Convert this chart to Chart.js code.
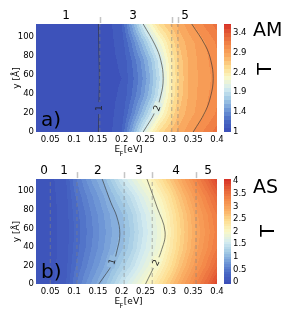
<!DOCTYPE html>
<html>
<head>
<meta charset="utf-8">
<title>T(E_F, y) AM / AS</title>
<script src="https://cdn.jsdelivr.net/npm/chart.js@4.4.1/dist/chart.umd.min.js"></script>
<style>
  html, body { margin: 0; padding: 0; background: #fff; }
  #wrap { position: relative; width: 291px; height: 316px; overflow: hidden; }
  canvas { position: absolute; left: 0; }
  #chartA { top: 0; }
  #chartB { top: 158px; }
</style>
</head>
<body>
<div id="wrap">
  <canvas id="chartA" width="291" height="158"></canvas>
  <canvas id="chartB" width="291" height="158"></canvas>
</div>
<script>
// ---- values ----
const xRange = [0.02, 0.4];          // E_F [eV]
const yRange = [0, 113];             // y [Å]
const xTicks = [0.05, 0.1, 0.15, 0.2, 0.25, 0.3, 0.35, 0.4];
const yTicks = [0, 20, 40, 60, 80, 100];
const yGrid = [0, 19, 38, 56, 75, 94, 113];   // rows of the T maps

// a) AM
const eGridA = [0.02, 0.1, 0.15, 0.18, 0.2, 0.22, 0.24, 0.26, 0.28, 0.3, 0.32, 0.34, 0.36, 0.38, 0.4];
const tGridA = [
  [0.97, 0.97, 0.98, 1.0, 1.1, 1.5, 1.9, 2.25, 2.55, 2.7, 2.85, 2.95, 3.05, 3.15, 3.25],
  [0.97, 0.97, 0.98, 0.99, 1.04, 1.3, 1.6, 1.9, 2.2, 2.48, 2.71, 2.85, 2.93, 3.02, 3.12],
  [0.97, 0.97, 0.98, 0.99, 1.01, 1.19, 1.41, 1.67, 1.97, 2.34, 2.63, 2.81, 2.91, 2.99, 3.07],
  [0.97, 0.97, 0.98, 0.99, 1.0, 1.15, 1.35, 1.6, 1.9, 2.3, 2.6, 2.8, 2.9, 2.97, 3.05],
  [0.97, 0.97, 0.98, 0.99, 1.01, 1.19, 1.41, 1.67, 1.97, 2.34, 2.63, 2.81, 2.91, 2.99, 3.07],
  [0.97, 0.97, 0.98, 0.99, 1.04, 1.3, 1.6, 1.9, 2.2, 2.48, 2.71, 2.85, 2.93, 3.02, 3.12],
  [0.97, 0.97, 0.98, 1.0, 1.1, 1.5, 1.9, 2.25, 2.55, 2.7, 2.85, 2.95, 3.05, 3.15, 3.25]
];
const cbRangeA = [0.894, 3.628];
const cbTicksA = [0.9, 1.4, 1.9, 2.4, 2.9, 3.4];
const cbLabelsA = ['1', '1.4', '1.9', '2.4', '2.9', '3.4'];
const dashA = [0.154, 0.305, 0.318];
const marksA = [0.154, 0.305, 0.318];
const topPosA = [0.083, 0.224, 0.333];
const topLabelsA = ['1', '3', '5'];
const c1aY = [0, 28, 56, 84, 113],          c1aE = [0.151, 0.152, 0.153, 0.152, 0.151];
const c2aY = [0, 21, 38, 56, 75, 91, 113],  c2aE = [0.245, 0.27, 0.282, 0.287, 0.282, 0.27, 0.245];
const c3aY = [0, 21, 38, 56, 75, 91, 113],  c3aE = [0.35, 0.375, 0.387, 0.392, 0.387, 0.375, 0.347];

// b) AS
const eGridB = [0.02, 0.05, 0.08, 0.1, 0.12, 0.14, 0.16, 0.18, 0.2, 0.22, 0.24, 0.26, 0.28, 0.3, 0.32, 0.34, 0.36, 0.38, 0.4];
const tGridB = [
  [0.05, 0.08, 0.15, 0.45, 0.65, 0.85, 1.02, 1.25, 1.5, 1.7, 1.9, 2.1, 2.35, 2.6, 2.85, 3.1, 3.35, 3.6, 3.9],
  [0.05, 0.08, 0.13, 0.37, 0.54, 0.71, 0.87, 1.06, 1.24, 1.43, 1.65, 1.85, 2.08, 2.35, 2.63, 2.88, 3.13, 3.35, 3.6],
  [0.05, 0.08, 0.12, 0.32, 0.47, 0.63, 0.78, 0.94, 1.08, 1.27, 1.5, 1.7, 1.9, 2.2, 2.49, 2.74, 3.0, 3.2, 3.41],
  [0.05, 0.08, 0.12, 0.3, 0.45, 0.6, 0.75, 0.9, 1.03, 1.22, 1.45, 1.65, 1.85, 2.15, 2.45, 2.7, 2.95, 3.15, 3.35],
  [0.05, 0.08, 0.12, 0.32, 0.47, 0.63, 0.78, 0.94, 1.08, 1.27, 1.5, 1.7, 1.9, 2.2, 2.49, 2.74, 3.0, 3.2, 3.41],
  [0.05, 0.08, 0.13, 0.37, 0.54, 0.71, 0.87, 1.06, 1.24, 1.43, 1.65, 1.85, 2.08, 2.35, 2.63, 2.88, 3.13, 3.35, 3.6],
  [0.05, 0.08, 0.15, 0.45, 0.65, 0.85, 1.02, 1.25, 1.5, 1.7, 1.9, 2.1, 2.35, 2.6, 2.85, 3.1, 3.35, 3.6, 3.9]
];
const cbRangeB = [-0.077, 4.077];
const cbTicksB = [0, 0.5, 1, 1.5, 2, 2.5, 3, 3.5, 4];
const cbLabelsB = ['0', '0.5', '1', '1.5', '2', '2.5', '3', '3.5', '4'];
const dashB = [0.05, 0.106, 0.205, 0.264, 0.356];
const marksB = [0.106, 0.205, 0.264, 0.356];
const topPosB = [0.037, 0.079, 0.15, 0.236, 0.314, 0.381];
const topLabelsB = ['0', '1', '2', '3', '4', '5'];
const c1bY = [0, 23, 36, 54, 72, 88, 113],  c1bE = [0.152, 0.182, 0.19, 0.196, 0.19, 0.177, 0.159];
const c2bY = [0, 23, 34, 56, 83, 113],      c2bE = [0.25, 0.272, 0.282, 0.291, 0.274, 0.253];

// ---- colour map (blue - cream - red) ----
const cmapStops = [
  [0.00, [58, 76, 183]],
  [0.10, [72, 104, 196]],
  [0.20, [110, 150, 214]],
  [0.30, [160, 200, 228]],
  [0.40, [212, 236, 240]],
  [0.50, [250, 248, 200]],
  [0.60, [253, 222, 146]],
  [0.70, [250, 175, 100]],
  [0.80, [244, 138, 74]],
  [0.90, [230, 98, 56]],
  [1.00, [214, 48, 39]]
];
function cmap(t) {
  t = Math.max(0, Math.min(1, t));
  let k = 0;
  while (k < cmapStops.length - 2 && t > cmapStops[k + 1][0]) k++;
  const [t0, c0] = cmapStops[k], [t1, c1] = cmapStops[k + 1];
  const f = (t - t0) / (t1 - t0);
  return c0.map((v, i) => Math.round(v + (c1[i] - v) * f));
}
// contourf-like bands of 0.1
function bandColor(T, p) {
  const k = Math.floor((T - p.lo) / 0.1);
  const tq = p.lo + (k + 0.5) * 0.1;
  return cmap((tq - p.cbRange[0]) / (p.cbRange[1] - p.cbRange[0]));
}
function locate(arr, v) {
  let i = 0;
  while (i < arr.length - 2 && v > arr[i + 1]) i++;
  const f = Math.max(0, Math.min(1, (v - arr[i]) / (arr[i + 1] - arr[i])));
  return [i, f];
}
function sampleT(p, e, yv) {
  const [i, fx] = locate(p.e, e), [j, fy] = locate(yGrid, yv);
  const g = p.t;
  const a = g[j][i] * (1 - fx) + g[j][i + 1] * fx;
  const b = g[j + 1][i] * (1 - fx) + g[j + 1][i + 1] * fx;
  return a * (1 - fy) + b * fy;
}

const FONT = 'DejaVu Sans';

function fieldPlugin(p) {
  return {
    id: 'field' + p.tag,
    beforeDatasetsDraw(chart) {
      const { ctx, chartArea: a, scales } = chart;
      const x = scales.x, y = scales.y, cb = scales.cb;
      const w = Math.round(a.right - a.left), h = Math.round(a.bottom - a.top);
      const off = document.createElement('canvas');
      off.width = w; off.height = h;
      const octx = off.getContext('2d');
      const img = octx.createImageData(w, h);
      for (let j = 0; j < h; j++) {
        const yv = y.getValueForPixel(a.top + j + 0.5);
        for (let i = 0; i < w; i++) {
          const ev = x.getValueForPixel(a.left + i + 0.5);
          const c = bandColor(sampleT(p, ev, yv), p);
          const o = (j * w + i) * 4;
          img.data[o] = c[0]; img.data[o + 1] = c[1]; img.data[o + 2] = c[2]; img.data[o + 3] = 255;
        }
      }
      octx.putImageData(img, 0, 0);
      ctx.drawImage(off, a.left, a.top);
      // colorbar
      const cx = a.right + 7;
      for (let py = Math.floor(cb.top); py < Math.ceil(cb.bottom); py++) {
        const c = bandColor(cb.getValueForPixel(py + 0.5), p);
        ctx.fillStyle = 'rgb(' + c.join(',') + ')';
        ctx.fillRect(cx, py, 7, 1);
      }
    },
    afterDatasetsDraw(chart) {
      const { ctx, scales: { x, y } } = chart;
      ctx.save();
      ctx.font = '9px "' + FONT + '"';
      ctx.textAlign = 'center';
      ctx.textBaseline = 'middle';
      p.clabels.forEach(l => {
        const c = p.contours[l.c];
        let k = 0;
        while (k < c.y.length - 2 && l.y > c.y[k + 1]) k++;
        const x0 = x.getPixelForValue(c.e[k]), y0 = y.getPixelForValue(c.y[k]);
        const x1 = x.getPixelForValue(c.e[k + 1]), y1 = y.getPixelForValue(c.y[k + 1]);
        let ang = Math.atan2(y1 - y0, x1 - x0);
        if (ang > Math.PI / 2) ang -= Math.PI;
        if (ang < -Math.PI / 2 - 1e-6) ang += Math.PI;
        const px = x.getPixelForValue(l.e), py = y.getPixelForValue(l.y);
        ctx.save();
        ctx.translate(px, py);
        ctx.rotate(ang);
        const col = bandColor(sampleT(p, l.e, l.y), p);
        ctx.fillStyle = 'rgb(' + col.join(',') + ')';
        ctx.fillRect(-6, -4, 12, 8);
        ctx.fillStyle = '#222';
        ctx.fillText(l.text, 0, 0.5);
        ctx.restore();
      });
      ctx.restore();
    },
    afterDraw(chart) {
      const { ctx, chartArea: a, scales: { x } } = chart;
      ctx.save();
      // small marks above the plot at the subband edges
      ctx.strokeStyle = 'rgba(190,190,190,0.9)';
      ctx.lineWidth = 1.5;
      p.marks.forEach(e => {
        const px = Math.round(x.getPixelForValue(e)) + 0.5;
        ctx.beginPath(); ctx.moveTo(px, a.top - 7); ctx.lineTo(px, a.top - 1); ctx.stroke();
      });
      ctx.fillStyle = '#000';
      // panel tag
      ctx.font = '20px "' + FONT + '"';
      ctx.textAlign = 'left'; ctx.textBaseline = 'alphabetic';
      ctx.fillText(p.tag, a.left + 5, a.bottom - 6);
      // structure name
      ctx.font = '19px "' + FONT + '"';
      ctx.fillText(p.name, 253, p.nameY);
      // colorbar label T
      ctx.save();
      ctx.translate(p.tPos[0], p.tPos[1]);
      ctx.rotate(-Math.PI / 2);
      ctx.textAlign = 'center'; ctx.textBaseline = 'middle';
      ctx.fillText('T', 0, 0);
      ctx.restore();
      // y label
      ctx.save();
      ctx.font = '9px "' + FONT + '"';
      ctx.translate(17, (a.top + a.bottom) / 2);
      ctx.rotate(-Math.PI / 2);
      ctx.textAlign = 'center'; ctx.textBaseline = 'middle';
      ctx.fillText('y [Å]', 0, 0);
      ctx.restore();
      // x label E_F [eV]
      ctx.font = '9px "' + FONT + '"';
      const wE = ctx.measureText('E').width, wB = ctx.measureText('[eV]').width;
      ctx.font = '6.5px "' + FONT + '"';
      const wF = ctx.measureText('F').width;
      let sx = (a.left + a.right) / 2 + 2 - (wE + wF + wB) / 2;
      const by = a.bottom + 20;
      ctx.font = '9px "' + FONT + '"';
      ctx.fillText('E', sx, by);
      ctx.font = '6.5px "' + FONT + '"';
      ctx.fillText('F', sx + wE - 0.5, by + 4);
      ctx.font = '9px "' + FONT + '"';
      ctx.fillText('[eV]', sx + wE + wF, by);
      ctx.restore();
    }
  };
}

function tickFont(size) { return { family: FONT, size: size }; }

function makeChart(p) {
  const datasets = [];
  p.dashes.forEach(e => datasets.push({
    data: [{ x: e, y: yRange[0] }, { x: e, y: yRange[1] }],
    showLine: true, borderColor: 'rgba(130,130,130,0.6)', borderDash: [4, 3], borderWidth: 1,
    pointRadius: 0, xAxisID: 'x', yAxisID: 'y'
  }));
  p.contours.forEach(c => datasets.push({
    data: c.e.map((e, i) => ({ x: e, y: c.y[i] })),
    showLine: true, borderColor: 'rgba(50,50,50,0.7)', borderWidth: 0.9, tension: 0.4,
    pointRadius: 0, xAxisID: 'x', yAxisID: 'y'
  }));
  return new Chart(document.getElementById(p.canvas), {
    type: 'scatter',
    data: { datasets },
    options: {
      responsive: false,
      animation: false,
      devicePixelRatio: 1,
      layout: { padding: 0, autoPadding: false },
      plugins: { legend: { display: false }, tooltip: { enabled: false } },
      scales: {
        x: {
          type: 'linear', position: 'bottom', min: xRange[0], max: xRange[1],
          afterBuildTicks: s => { s.ticks = xTicks.map(v => ({ value: v })); },
          afterFit: s => { s.height = p.botH; },
          grid: { display: false, drawTicks: false }, border: { display: false },
          ticks: { autoSkip: false, maxRotation: 0, padding: 3, color: '#000', font: tickFont(8.5),
                   callback: v => String(Number(v.toFixed(2))) }
        },
        x2: {
          type: 'linear', axis: 'x', position: 'top', min: xRange[0], max: xRange[1],
          afterBuildTicks: s => { s.ticks = p.topPos.map(v => ({ value: v })); },
          afterFit: s => { s.height = p.topH; },
          grid: { display: false, drawTicks: false }, border: { display: false },
          ticks: { autoSkip: false, maxRotation: 0, padding: 1, color: '#000', font: tickFont(12),
                   callback: (v, i) => p.topLabels[i] }
        },
        y: {
          type: 'linear', position: 'left', min: yRange[0], max: yRange[1],
          afterBuildTicks: s => { s.ticks = yTicks.map(v => ({ value: v })); },
          afterFit: s => { s.width = 36; },
          grid: { display: false, drawTicks: false }, border: { display: false },
          ticks: { autoSkip: false, padding: 2, color: '#000', font: tickFont(8.5) }
        },
        cb: {
          type: 'linear', axis: 'y', position: 'right', min: p.cbRange[0], max: p.cbRange[1],
          afterBuildTicks: s => { s.ticks = p.cbTicks.map(v => ({ value: v })); },
          afterFit: s => { s.width = 74; },
          grid: { display: false, drawTicks: false }, border: { display: false },
          ticks: { autoSkip: false, padding: 16, color: '#000', font: tickFont(8.5),
                   callback: (v, i) => p.cbLabels[i] }
        }
      }
    },
    plugins: [fieldPlugin(p)]
  });
}

makeChart({
  canvas: 'chartA', tag: 'a)', name: 'AM', nameY: 36, tPos: [266, 69], topH: 24, botH: 26,
  e: eGridA, t: tGridA, lo: 0.9, cbRange: cbRangeA, cbTicks: cbTicksA, cbLabels: cbLabelsA,
  dashes: dashA, marks: marksA, topPos: topPosA, topLabels: topLabelsA,
  contours: [{ e: c1aE, y: c1aY }, { e: c2aE, y: c2aY }, { e: c3aE, y: c3aY }],
  clabels: [{ text: '1', e: 0.152, y: 25, c: 0 }, { text: '2', e: 0.274, y: 25, c: 1 }]
});
makeChart({
  canvas: 'chartB', tag: 'b)', name: 'AS', nameY: 35, tPos: [269, 73], topH: 18, botH: 32,
  e: eGridB, t: tGridB, lo: 0.0, cbRange: cbRangeB, cbTicks: cbTicksB, cbLabels: cbLabelsB,
  dashes: dashB, marks: marksB, topPos: topPosB, topLabels: topLabelsB,
  contours: [{ e: c1bE, y: c1bY }, { e: c2bE, y: c2bY }],
  clabels: [{ text: '1', e: 0.18, y: 24, c: 0 }, { text: '2', e: 0.272, y: 23, c: 1 }]
});
</script>
</body>
</html>
